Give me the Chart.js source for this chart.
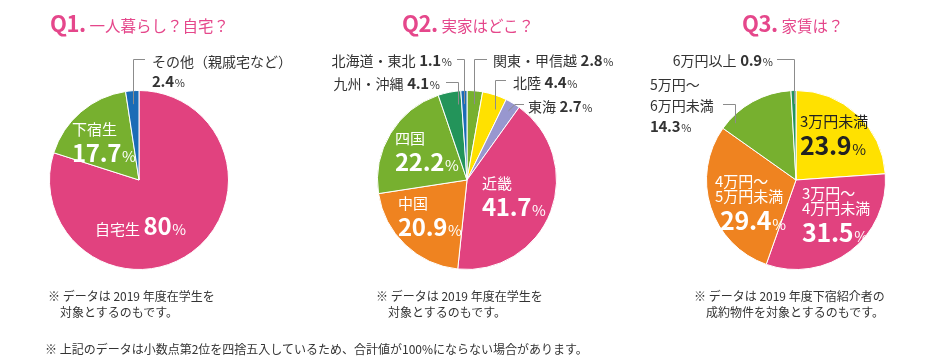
<!DOCTYPE html>
<html lang="ja">
<head>
<meta charset="utf-8">
<title>一人暮らし・実家・家賃</title>
<script src="https://cdn.jsdelivr.net/npm/chart.js@4/dist/chart.umd.min.js"></script>
<style>
  html, body { margin: 0; padding: 0; background: #fff; }
  #stage { position: relative; width: 950px; height: 360px; overflow: hidden;
           font-family: "Noto Sans CJK JP", "Noto Sans", sans-serif; }
  .layer { position: absolute; left: 0; top: 0; width: 950px; height: 360px; pointer-events: none; }
  .lbl { position: absolute; white-space: nowrap; line-height: 1; }
  .title { position: absolute; white-space: nowrap; color: #e5478b; line-height: 1; transform: translateY(-50%); }
  .title b { font-size: 22px; font-weight: 700; letter-spacing: -0.5px; }
  .title span { font-size: 15.5px; margin-left: 4px; }
  .note { position: absolute; white-space: nowrap; color: #333; font-size: 12px; line-height: 16px; }
</style>
</head>
<body>
<div id="stage">
  <div class="layer"><canvas id="c1"></canvas></div>
  <div class="layer"><canvas id="c2"></canvas></div>
  <div class="layer"><canvas id="c3"></canvas></div>
</div>
<script>
// Q1 一人暮らし？自宅？
const q1Labels = ['自宅生', '下宿生', 'その他（親戚宅など）'];
const q1Values = [80, 17.7, 2.4];
const q1Colors = ['#e1427f', '#77b02f', '#1b6cb6'];

// Q2 実家はどこ？
const q2Labels = ['関東・甲信越', '北陸', '東海', '近畿', '中国', '四国', '九州・沖縄', '北海道・東北'];
const q2Values = [2.8, 4.4, 2.7, 41.7, 20.9, 22.2, 4.1, 1.1];
const q2Colors = ['#77b02f', '#ffe100', '#9897cf', '#e1427f', '#ef8320', '#77b02f', '#23945a', '#1b6cb6'];

// Q3 家賃は？
const q3Labels = ['3万円未満', '3万円～\n4万円未満', '4万円～\n5万円未満', '5万円～\n6万円未満', '6万円以上'];
const q3Values = [23.9, 31.5, 29.4, 14.3, 0.9];
const q3Colors = ['#ffe100', '#e1427f', '#ef8320', '#77b02f', '#23945a'];

const stage = document.getElementById('stage');

function fmt(v) {
    return Number.isInteger(v) ? String(v) : v.toFixed(1);
}

// leader lines from a slice out to its label
// (items kept out of chart options so the option resolver doesn't touch them)
function leaderPlugin(items) {
    return {
        id: 'leaders',
        afterDraw(chart) {
            const meta = chart.getDatasetMeta(0);
            const ctx = chart.ctx;
            ctx.save();
            ctx.strokeStyle = '#8c8c8c';
            ctx.lineWidth = 1;
            items.forEach(it => {
                const p = meta.data[it.index].getProps(['x', 'y', 'startAngle', 'endAngle', 'outerRadius'], true);
                const a = p.startAngle + (p.endAngle - p.startAngle) * (it.at ?? 0.5);
                const rad = p.outerRadius * (it.depth ?? 0.85);
                const ax = Math.round(p.x + Math.cos(a) * rad) + 0.5;
                const ay = p.y + Math.sin(a) * rad;
                const y = it.y + 0.5;
                ctx.beginPath();
                ctx.moveTo(ax, ay);
                if (it.slant) {
                    ctx.lineTo(it.x1, y);
                } else {
                    ctx.lineTo(ax, y);
                }
                ctx.lineTo(it.x2, y);
                ctx.stroke();
            });
            ctx.restore();
        }
    };
}

function makePie(id, cx, labels, values, colors, leaders) {
    new Chart(document.getElementById(id), {
        type: 'pie',
        data: {
            labels: labels,
            datasets: [{
                data: values,
                backgroundColor: colors,
                borderColor: '#ffffff',
                borderWidth: 1
            }]
        },
        options: {
            responsive: true,
            maintainAspectRatio: false,
            animation: false,
            layout: { padding: { left: cx - 90, right: 950 - cx - 90, top: 90, bottom: 90 } },
            plugins: {
                legend: { display: false },
                tooltip: { enabled: false }
            }
        },
        plugins: [leaderPlugin(leaders)]
    });
}

makePie('c1', 139, q1Labels, q1Values, q1Colors, [
    { index: 2, y: 59, x2: 145 }
]);
makePie('c2', 467, q2Labels, q2Values, q2Colors, [
    { index: 7, y: 59, x2: 457 },
    { index: 0, y: 59, x2: 487 },
    { index: 6, y: 82, x2: 446, at: 0.8 },
    { index: 1, y: 80, x2: 506, at: 0.75 },
    { index: 2, slant: true, x1: 515, y: 104, x2: 524, depth: 0.9 }
]);
makePie('c3', 796, q3Labels, q3Values, q3Colors, [
    { index: 4, y: 59, x2: 777 },
    { index: 3, y: 104, x2: 723, at: 0.15, depth: 0.93 }
]);

// label placement (positions only; text and numbers come from the arrays)
const q1Layout = [
    { x: 95, color: '#fff', rows: [[225, 'nv']], ns: 15, vs: 24, ps: 15 },
    { x: 72, color: '#fff', rows: [[128, 'n', 0], [152, 'v']], ns: 15, vs: 24, ps: 15 },
    { x: 152, color: '#333', rows: [[60, 'n', 0], [80, 'v']], ns: 14, vs: 15, ps: 11 }
];
const q2Layout = [
    { x: 493, color: '#333', rows: [[59, 'nv']], ns: 14, vs: 15, ps: 11 },
    { x: 513, color: '#333', rows: [[81, 'nv']], ns: 14, vs: 15, ps: 11 },
    { x: 528, color: '#333', rows: [[105, 'nv']], ns: 14, vs: 15, ps: 11 },
    { x: 482, color: '#fff', rows: [[182, 'n', 0], [206, 'v']], ns: 15, vs: 24, ps: 15 },
    { x: 398, color: '#fff', rows: [[202, 'n', 0], [226, 'v']], ns: 15, vs: 24, ps: 15 },
    { x: 395, color: '#fff', rows: [[137, 'n', 0], [161, 'v']], ns: 15, vs: 24, ps: 15 },
    { x: 440, align: 'right', color: '#333', rows: [[82, 'nv']], ns: 14, vs: 15, ps: 11 },
    { x: 452, align: 'right', color: '#333', rows: [[59, 'nv']], ns: 14, vs: 15, ps: 11 }
];
const q3Layout = [
    { x: 800, color: '#222', rows: [[120, 'n', 0], [144, 'v']], ns: 15, vs: 25, ps: 15 },
    { x: 802, color: '#fff', rows: [[192, 'n', 0], [207, 'n', 1], [231, 'v']], ns: 15, vs: 25, ps: 15 },
    { x: 715, color: '#fff', rows: [[180, 'n', 0], [195, 'n', 1], [219, 'v', 720]], ns: 15, vs: 25, ps: 15 },
    { x: 650, color: '#333', rows: [[83, 'n', 0], [104, 'n', 1], [125, 'v']], ns: 14, vs: 15, ps: 11 },
    { x: 773, align: 'right', color: '#333', rows: [[59, 'nv']], ns: 14, vs: 15, ps: 11 }
];

function addLabels(labels, values, layout) {
    layout.forEach((lay, i) => {
        const names = labels[i].split('\n');
        const val = `<b style="font-size:${lay.vs}px;font-weight:700;letter-spacing:-0.3px">${fmt(values[i])}</b>` +
                    `<span style="font-size:${lay.ps}px;margin-left:1px">%</span>`;
        lay.rows.forEach(row => {
            const [y, kind, extra] = row;
            let html;
            if (kind === 'nv') html = `<span style="font-size:${lay.ns}px">${names[0]}</span> ` + val;
            else if (kind === 'n') html = `<span style="font-size:${lay.ns}px">${names[extra]}</span>`;
            else html = val;
            const d = document.createElement('div');
            d.className = 'lbl';
            d.style.left = ((kind === 'v' && extra) ? extra : lay.x) + 'px';
            d.style.top = y + 'px';
            d.style.color = lay.color;
            d.style.transform = lay.align === 'right' ? 'translate(-100%,-50%)' : 'translateY(-50%)';
            d.innerHTML = html;
            stage.appendChild(d);
        });
    });
}

addLabels(q1Labels, q1Values, q1Layout);
addLabels(q2Labels, q2Values, q2Layout);
addLabels(q3Labels, q3Values, q3Layout);

// titles and notes
const titles = [
    { x: 50, q: 'Q1.', text: '一人暮らし？自宅？' },
    { x: 402, q: 'Q2.', text: '実家はどこ？' },
    { x: 742, q: 'Q3.', text: '家賃は？' }
];
titles.forEach(t => {
    const d = document.createElement('div');
    d.className = 'title';
    d.style.left = t.x + 'px';
    d.style.top = '22px';
    d.innerHTML = `<b>${t.q}</b><span>${t.text}</span>`;
    stage.appendChild(d);
});

const notes = [
    { x: 48, y: 288, html: '※ データは 2019 年度在学生を<br>&emsp;対象とするのもです。' },
    { x: 376, y: 288, html: '※ データは 2019 年度在学生を<br>&emsp;対象とするのもです。' },
    { x: 694, y: 288, html: '※ データは 2019 年度下宿紹介者の<br>&emsp;成約物件を対象とするのもです。' },
    { x: 45, y: 341, html: '※ 上記のデータは小数点第2位を四捨五入しているため、合計値が100%にならない場合があります。' }
];
notes.forEach(n => {
    const d = document.createElement('div');
    d.className = 'note';
    d.style.left = n.x + 'px';
    d.style.top = n.y + 'px';
    d.innerHTML = n.html;
    stage.appendChild(d);
});
</script>
</body>
</html>
